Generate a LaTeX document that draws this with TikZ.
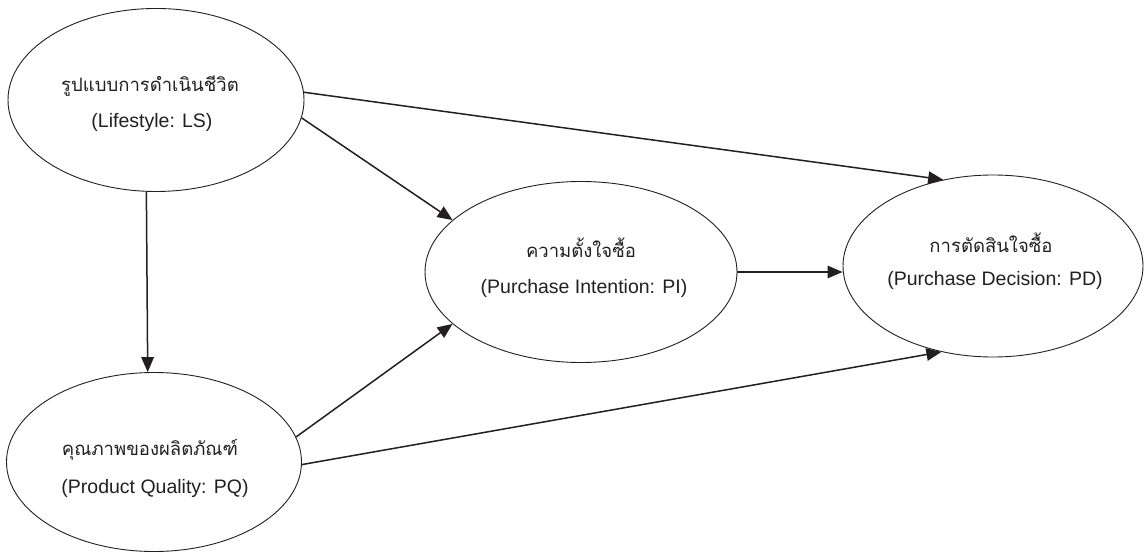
\documentclass[tikz,border=0pt]{standalone}
\usepackage{fontspec}
\setmainfont{Liberation Sans}
\newfontfamily\thaifont[Script=Thai]{Loma}
\usetikzlibrary{shapes.geometric,arrows.meta}
\definecolor{ink}{HTML}{231F20}
\tikzset{
  oval/.style={ellipse, draw=ink, line width=0.9pt, inner sep=0pt},
  th/.style={font=\thaifont\fontsize{18.5}{21}\selectfont, text=ink, inner sep=0pt},
  en/.style={font=\fontsize{19.5}{22}\selectfont, text=ink, inner sep=0pt},
  arr/.style={draw=ink, line width=1.5pt, -{Triangle[length=15pt,width=12.5pt]}}
}
\begin{document}
\begin{tikzpicture}[x=1pt,y=-1pt]
\useasboundingbox (0,0) rectangle (1145,553);
\node[oval, minimum width=296pt, minimum height=183pt] (ls) at (156,100) {};
\node[oval, minimum width=295pt, minimum height=179pt] (pq) at (154,462) {};
\node[oval, minimum width=312pt, minimum height=181pt] (pi) at (581,272) {};
\node[oval, minimum width=300pt, minimum height=182pt] (pd) at (993,266) {};
\node[th] (lst) at (150,86) {รูปแบบการดำเนินชีวิต};
\node[en] (lse) at (152,122) {(Lifestyle: LS)};
\node[th] (pqt) at (150,450) {คุณภาพของผลิตภัณฑ์};
\node[en] (pqe) at (155,488) {(Product Quality: PQ)};
\node[th] (pit) at (581,248) {ความตั้งใจซื้อ};
\node[en] (pie) at (584,288) {(Purchase Intention: PI)};
\node[th] (pdt) at (991,243) {การตัดสินใจซื้อ};
\node[en] (pde) at (995,280) {(Purchase Decision: PD)};
\draw[arr] (ls.264) -- (pq.94.5);
\draw[arr] (ls.-7) -- (pi.158.3);
\draw[arr] (ls.3.5) -- (pd.120.5);
\draw[arr] (pq.10.3) -- (pi.202.4);
\draw[arr] (pq.-1.5) -- (pd.239.8);
\draw[arr] (pi.east) -- (pi.east -| pd.west);
\end{tikzpicture}
\end{document}
